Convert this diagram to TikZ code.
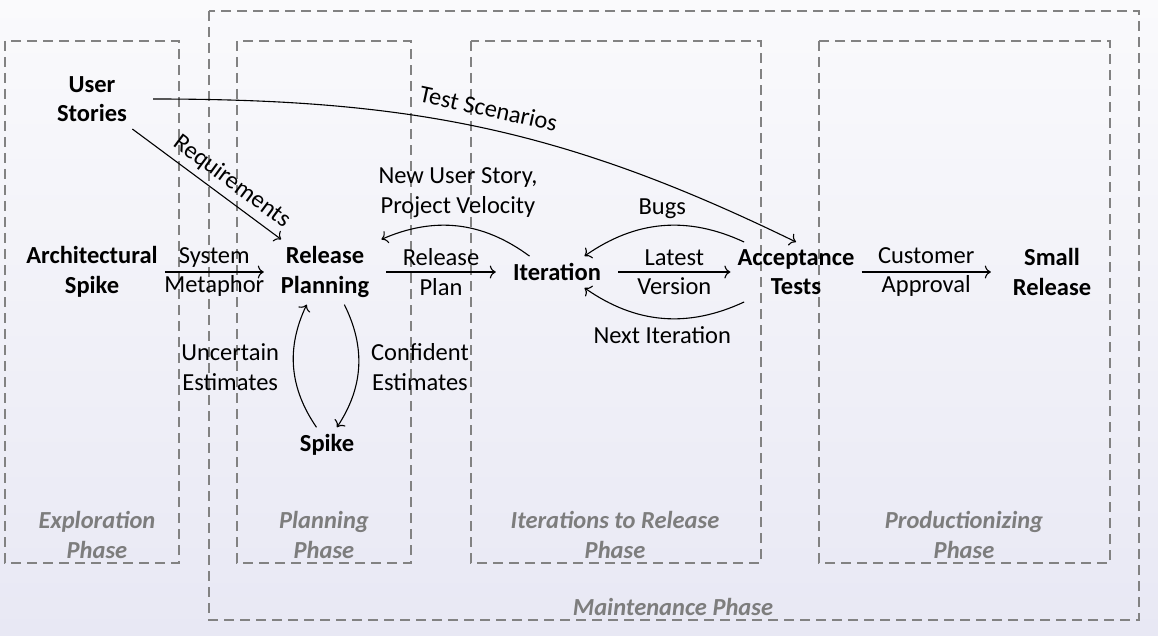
\documentclass[tikz,border=0pt]{standalone}
\usepackage{fontspec}
\setmainfont{Carlito}
\usetikzlibrary{arrows.meta}
\definecolor{bgtop}{RGB}{250,250,252}
\definecolor{bgbot}{RGB}{232,232,244}
\definecolor{dashgray}{RGB}{130,130,130}
\definecolor{phgray}{RGB}{125,125,125}
\begin{document}
\begin{tikzpicture}[x=1pt,y=-1pt,
  every node/.style={font=\fontsize{24.5}{29.5}\selectfont},
  main/.style={font=\fontsize{24.5}{29.5}\selectfont\bfseries, align=center, minimum width=122pt, inner sep=7pt},
  lbl/.style={align=center, inner sep=2pt},
  phasebox/.style={draw=dashgray, dash pattern=on 10pt off 6pt, line width=1.1pt},
  phlabel/.style={font=\fontsize{24.5}{29.5}\selectfont\bfseries\itshape, text=phgray, align=center},
  conn/.style={-{To[length=6pt,width=13pt]}, line width=1.1pt}
]
\shade[top color=bgtop, bottom color=bgbot] (0,0) rectangle (1158,636);
\useasboundingbox (0,0) rectangle (1158,636);

% phase boxes
\draw[phasebox] (209,11) rectangle (1139,620);
\draw[phasebox] (5,41) rectangle (179,563);
\draw[phasebox] (237,41) rectangle (411,563);
\draw[phasebox] (471,41) rectangle (761,563);
\draw[phasebox] (819,41) rectangle (1110,563);

\node[phlabel] (pl1) at (97,535) {Exploration\\Phase};
\node[phlabel] (pl2) at (324,535) {Planning\\Phase};
\node[phlabel] (pl3) at (615,535) {Iterations to Release\\Phase};
\node[phlabel] (pl4) at (964,535) {Productionizing\\Phase};
\node[phlabel] (pl5) at (673,607) {Maintenance Phase};

% main nodes
\node[main] (us) at (92,99) {User\\Stories};
\node[main] (as) at (92,272) {Architectural\\Spike};
\node[main] (rp) at (325,272) {Release\\Planning};
\node[main] (sp) at (327,445) {Spike};
\node[main] (it) at (557,272) {Iteration};
\node[main] (at) at (796,272) {Acceptance\\Tests};
\node[main] (sr) at (1052,272) {Small\\Release};

% connectors
\draw[conn] (as) -- node[lbl]{System\\Metaphor} (rp);
\draw[conn] (rp) -- node[lbl]{Release\\Plan} (it);
\draw[conn] (it) -- node[lbl]{Latest\\Version} (at);
\draw[conn] (at) -- node[lbl]{Customer\\Approval} (sr);
\draw[conn] (us) -- node[lbl, sloped, above=4pt, pos=0.6]{Requirements} (rp);
\draw[conn] (us.east) to[out=0, in=154] node[lbl, sloped, above=9pt]{Test Scenarios} (at.north);
\draw[conn] (it) to[bend right=30] node[lbl, above=6pt]{New User Story,\\Project Velocity} (rp);
\draw[conn] (at) to[bend right=30] node[lbl, above=4pt]{Bugs} (it);
\draw[conn] (at) to[bend left=30] node[lbl, below=6pt]{Next Iteration} (it);
\draw[conn] (rp) to[bend left=30] node[lbl, right=10pt]{Confident\\Estimates} (sp);
\draw[conn] (sp) to[bend left=30] node[lbl, left=12pt]{Uncertain\\Estimates} (rp);
\end{tikzpicture}
\end{document}
